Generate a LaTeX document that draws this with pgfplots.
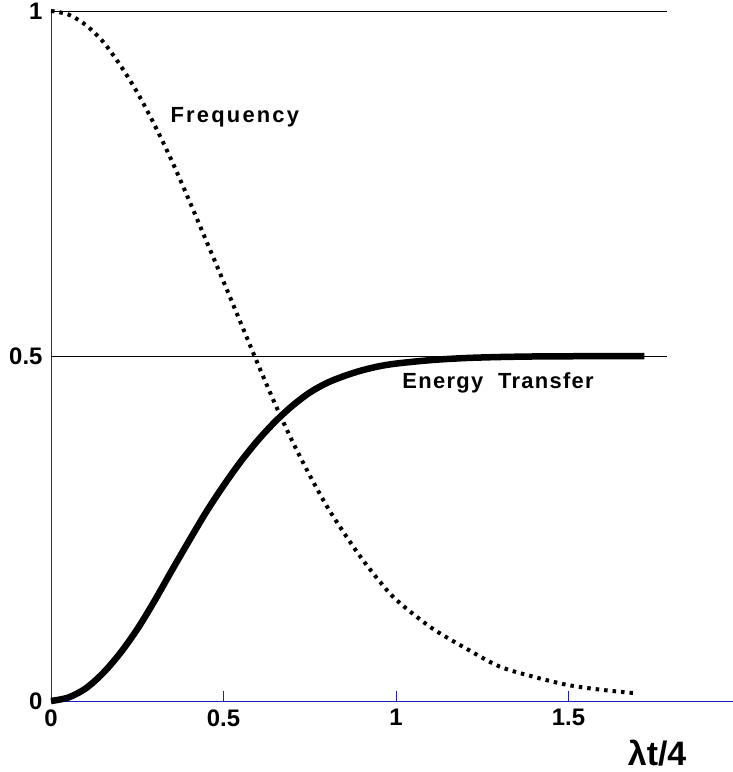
\documentclass[border=0pt]{standalone}
\usepackage{pgfplots}
\pgfplotsset{compat=1.18}
\usepackage{fontspec}
\setmainfont{Liberation Sans}
\definecolor{axblue}{RGB}{30,30,200}
\begin{document}
\begin{tikzpicture}
\begin{axis}[name=ax, scale only axis, width=682bp, height=690bp,
  xmin=0, xmax=1.977, ymin=0, ymax=1,
  axis lines=left, axis line style={-, axblue, line width=0.9bp},
  clip=false,
  xtick={0,0.5,1,1.5}, xticklabels={0,0.5,1,1.5},
  ytick={0,0.5,1}, yticklabels={0,0.5,1},
  xtick style={axblue, line width=0.9bp}, major tick length=10bp, tick align=inside,
  ytick style={draw=none},
  tick label style={font=\bfseries\fontsize{24}{26}\selectfont},
  xticklabel style={yshift=-5bp},
  yticklabel style={xshift=-5bp},
]
\addplot[black, line width=0.8bp] coordinates {(0,0.5) (1.785,0.5)};
\addplot[black, line width=0.8bp] coordinates {(0,1) (1.785,1)};
% Frequency
\addplot[black, smooth, line width=4bp, dash pattern=on 3.5bp off 5bp] coordinates {
(0,1) (0.05,0.995) (0.1,0.980) (0.15,0.956) (0.2,0.922) (0.25,0.882) (0.3,0.835)
(0.35,0.783) (0.4,0.726) (0.45,0.667) (0.5,0.608) (0.55,0.548) (0.6,0.488)
(0.65,0.430) (0.7,0.376) (0.75,0.327) (0.8,0.282) (0.85,0.243) (0.9,0.207)
(0.95,0.175) (1.0,0.147) (1.1,0.107) (1.2,0.077) (1.3,0.050) (1.4,0.035)
(1.5,0.023) (1.6,0.016) (1.7,0.011)};
% Energy transfer
\addplot[black, smooth, line width=6.5bp] coordinates {
(0,0) (0.05,0.005) (0.1,0.018) (0.15,0.040) (0.2,0.069) (0.25,0.104) (0.3,0.145)
(0.35,0.189) (0.4,0.232) (0.45,0.274) (0.5,0.312) (0.55,0.347) (0.6,0.378)
(0.65,0.405) (0.7,0.428) (0.75,0.447) (0.8,0.461) (0.85,0.471) (0.9,0.479)
(0.95,0.485) (1.0,0.489) (1.1,0.494) (1.2,0.497) (1.3,0.4985) (1.4,0.4993)
(1.5,0.4996) (1.6,0.4998) (1.72,0.4999)};
\node[font=\bfseries\fontsize{22}{24}\selectfont] at (axis cs:0.533,0.846) {\addfontfeature{LetterSpace=10}Frequency};
\node[font=\bfseries\fontsize{22}{24}\selectfont] at (axis cs:1.296,0.461) {\addfontfeature{LetterSpace=6}Energy\ \ Transfer};
\node[font=\bfseries\fontsize{34}{36}\selectfont] at (axis cs:1.757,-0.0754) {λt/4};
\end{axis}
\pgfresetboundingbox
\path ([xshift=-51bp,yshift=-71bp]ax.south west) rectangle ([yshift=11bp]ax.north east);
\end{tikzpicture}
\end{document}
